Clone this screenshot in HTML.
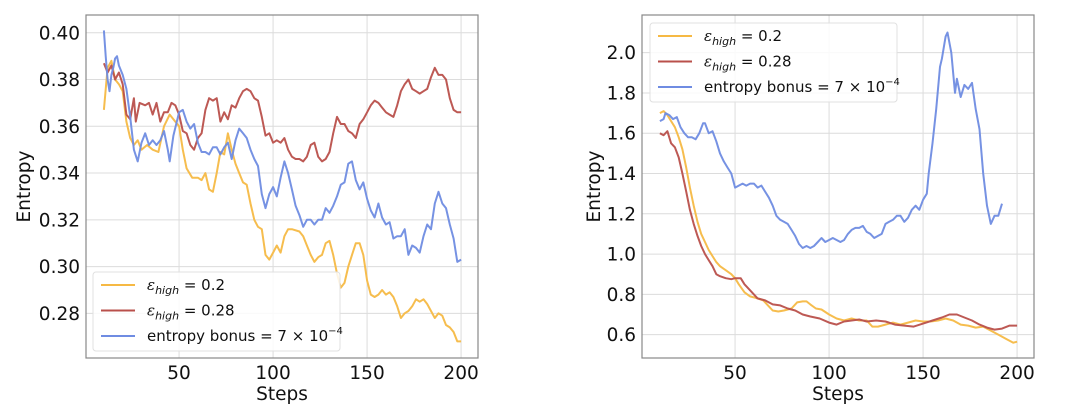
<!DOCTYPE html>
<html><head><meta charset="utf-8">
<style>
html,body{margin:0;padding:0;background:#fff;width:1080px;height:413px;overflow:hidden}
svg{font-family:"DejaVu Sans","Liberation Sans",sans-serif}
</style></head>
<body>
<svg id="fig" width="1080" height="413" viewBox="0 0 1080 413" xmlns="http://www.w3.org/2000/svg"></svg>
<script>
// ---- Left chart data ----
const L_orange_x=[10,12,14,16,18,20,22,24,26,28,30,33,36,39,42,45,48,50,52,54,57,60,62,64,66,68,70,72,74,76,78,80,82,84,86,88,90,92,94,96,98,100,102,104,106,108,110,114,116,118,120,122,124,126,128,130,132,134,136,138,140,142,144,146,148,150,152,154,156,158,160,162,164,166,168,170,172,174,176,178,180,182,184,186,188,190,192,194,196,198,200];
const L_orange_y=[0.367,0.385,0.388,0.380,0.378,0.375,0.362,0.355,0.352,0.354,0.350,0.352,0.350,0.349,0.360,0.365,0.362,0.360,0.350,0.342,0.338,0.338,0.337,0.340,0.333,0.332,0.340,0.349,0.348,0.357,0.350,0.344,0.340,0.336,0.335,0.327,0.320,0.317,0.316,0.305,0.303,0.306,0.309,0.306,0.313,0.316,0.316,0.315,0.313,0.309,0.305,0.302,0.304,0.305,0.310,0.311,0.305,0.297,0.291,0.293,0.300,0.305,0.310,0.310,0.305,0.294,0.288,0.287,0.288,0.290,0.288,0.289,0.287,0.283,0.278,0.280,0.281,0.283,0.286,0.285,0.286,0.284,0.281,0.278,0.280,0.279,0.275,0.274,0.272,0.268,0.268];
const L_red_x=[10,12,14,16,18,20,22,24,26,27,29,32,34,36,38,40,42,44,46,48,50,52,54,56,58,60,62,64,66,68,70,72,74,76,78,80,82,84,86,88,90,92,94,96,98,100,102,104,106,108,110,112,114,116,118,120,122,124,126,128,130,132,134,136,138,140,142,144,146,148,150,152,154,156,158,160,162,164,166,168,170,172,174,176,178,180,182,184,186,188,190,192,194,196,198,200];
const L_red_y=[0.387,0.383,0.386,0.380,0.383,0.378,0.365,0.363,0.372,0.362,0.370,0.369,0.370,0.365,0.370,0.362,0.366,0.366,0.370,0.369,0.365,0.358,0.357,0.352,0.350,0.355,0.357,0.367,0.372,0.371,0.372,0.362,0.366,0.363,0.369,0.368,0.372,0.375,0.376,0.375,0.372,0.371,0.364,0.356,0.357,0.353,0.354,0.353,0.355,0.350,0.347,0.346,0.346,0.345,0.347,0.352,0.353,0.347,0.345,0.346,0.349,0.357,0.364,0.361,0.361,0.358,0.357,0.355,0.361,0.363,0.366,0.369,0.371,0.370,0.368,0.366,0.365,0.364,0.369,0.375,0.378,0.380,0.376,0.375,0.374,0.375,0.376,0.381,0.385,0.382,0.382,0.380,0.372,0.367,0.366,0.366];
const L_blue_x=[10,11,12,13,14,15,16,17,18,20,22,24,26,28,30,32,34,36,38,40,42,44,45,47,50,52,54,56,58,60,62,64,66,68,70,72,74,76,78,80,82,84,86,88,90,92,94,96,98,100,102,104,106,108,110,112,114,116,118,120,122,124,126,128,130,132,134,136,138,140,142,144,146,148,150,152,154,156,158,160,162,164,166,168,170,172,174,176,178,180,182,184,186,188,190,192,194,196,198,200];
const L_blue_y=[0.401,0.390,0.380,0.375,0.382,0.385,0.389,0.390,0.386,0.382,0.376,0.364,0.350,0.345,0.353,0.357,0.352,0.354,0.352,0.354,0.358,0.350,0.345,0.356,0.366,0.367,0.362,0.359,0.361,0.353,0.349,0.349,0.348,0.351,0.351,0.348,0.351,0.353,0.346,0.354,0.359,0.357,0.355,0.350,0.346,0.343,0.331,0.325,0.331,0.334,0.330,0.338,0.345,0.340,0.333,0.326,0.322,0.317,0.320,0.320,0.318,0.320,0.320,0.325,0.323,0.326,0.330,0.335,0.336,0.344,0.345,0.337,0.333,0.336,0.329,0.324,0.321,0.327,0.321,0.318,0.319,0.312,0.313,0.313,0.316,0.305,0.309,0.308,0.306,0.313,0.318,0.316,0.327,0.332,0.327,0.325,0.318,0.312,0.302,0.303];
const L_yticks=[0.28,0.30,0.32,0.34,0.36,0.38,0.40];
const L_ytick_labels=["0.28","0.30","0.32","0.34","0.36","0.38","0.40"];
// ---- Right chart data ----
const R_orange_x=[10,12,14,16,18,20,22,24,26,28,30,32,34,36,38,40,42,45,48,50,52,55,58,62,65,68,70,73,76,80,83,86,88,90,93,96,100,104,108,112,116,120,123,126,130,134,138,142,146,150,154,158,162,166,170,174,178,182,186,190,194,198,200];
const R_orange_y=[1.70,1.71,1.69,1.66,1.63,1.58,1.52,1.43,1.33,1.24,1.16,1.10,1.06,1.02,0.99,0.96,0.94,0.92,0.90,0.88,0.85,0.81,0.79,0.78,0.77,0.74,0.72,0.715,0.72,0.73,0.76,0.765,0.765,0.75,0.73,0.725,0.70,0.68,0.67,0.68,0.67,0.67,0.64,0.64,0.65,0.66,0.65,0.66,0.67,0.665,0.665,0.67,0.68,0.67,0.65,0.645,0.635,0.64,0.62,0.60,0.58,0.56,0.565];
const R_red_x=[10,12,14,16,18,20,22,24,26,28,30,32,34,36,38,40,42,45,48,50,53,55,58,62,66,70,74,78,82,86,90,95,100,104,108,112,116,120,125,130,135,140,145,150,155,160,164,168,172,176,180,184,188,192,196,200];
const R_red_y=[1.60,1.59,1.61,1.55,1.53,1.48,1.40,1.31,1.22,1.15,1.09,1.04,1.00,0.97,0.94,0.90,0.89,0.88,0.875,0.88,0.88,0.85,0.82,0.78,0.77,0.75,0.745,0.73,0.72,0.70,0.69,0.68,0.66,0.65,0.665,0.67,0.675,0.665,0.67,0.665,0.65,0.645,0.64,0.655,0.67,0.685,0.70,0.70,0.685,0.67,0.65,0.635,0.625,0.63,0.645,0.645];
const R_blue_x=[10,12,13,15,17,19,21,23,25,27,29,31,33,34,36,38,40,42,44,46,48,50,52,54,56,58,60,62,64,66,68,70,72,74,76,78,80,82,84,86,88,90,92,94,96,98,100,102,104,106,108,110,112,114,116,118,120,122,124,126,128,130,132,134,136,138,140,142,144,146,148,150,152,153,155,157,159,160,162,163,165,167,168,170,172,174,176,178,180,182,184,186,188,190,192];
const R_blue_y=[1.66,1.67,1.70,1.69,1.67,1.68,1.63,1.60,1.58,1.58,1.57,1.60,1.65,1.65,1.60,1.61,1.56,1.50,1.46,1.43,1.40,1.33,1.34,1.35,1.34,1.35,1.35,1.33,1.34,1.31,1.28,1.24,1.19,1.17,1.16,1.15,1.12,1.09,1.05,1.03,1.04,1.03,1.04,1.06,1.08,1.06,1.07,1.08,1.07,1.06,1.07,1.10,1.12,1.13,1.13,1.14,1.11,1.10,1.08,1.09,1.10,1.15,1.16,1.17,1.19,1.19,1.16,1.18,1.22,1.24,1.22,1.27,1.30,1.40,1.55,1.72,1.93,1.97,2.08,2.10,2.00,1.80,1.87,1.78,1.84,1.82,1.85,1.72,1.62,1.40,1.24,1.15,1.19,1.19,1.25];
const R_yticks=[0.6,0.8,1.0,1.2,1.4,1.6,1.8,2.0];
const R_ytick_labels=["0.6","0.8","1.0","1.2","1.4","1.6","1.8","2.0"];
const xticks=[50,100,150,200];
const xtick_labels=["50","100","150","200"];
const legend_labels=["\u03B5","\u03B5","entropy bonus"];

const NS="http://www.w3.org/2000/svg";
const svg=document.getElementById('fig');
const COL={o:"#f6b944",r:"#b9504b",b:"#6f8ce2"};
function mk(tag,attrs,parent){const e=document.createElementNS(NS,tag);for(const k in attrs)e.setAttribute(k,attrs[k]);(parent||svg).appendChild(e);return e;}

function chart(cfg){
  const g=mk('g',{});
  
  
  const X=v=>cfg.x0+(v-cfg.xmin)/(cfg.xmax-cfg.xmin)*(cfg.x1-cfg.x0);
  const Y=v=>cfg.y1-(v-cfg.ymin)/(cfg.ymax-cfg.ymin)*(cfg.y1-cfg.y0);
  // grid
  cfg.yticks.forEach((t,i)=>{
    const l=mk('line',{x1:cfg.x0,x2:cfg.x1,y1:Y(t),y2:Y(t),stroke:"#dcdcdc","stroke-width":1},g);
    
    const tx=mk('text',{x:cfg.x0-6,y:Y(t)+6.5,"text-anchor":"end","font-size":18.5,fill:"#111"},g);
    tx.textContent=cfg.ylabels[i];
    
  });
  xticks.forEach((t,i)=>{
    const l=mk('line',{x1:X(t),x2:X(t),y1:cfg.y0,y2:cfg.y1,stroke:"#dcdcdc","stroke-width":1},g);
    
    const tx=mk('text',{x:X(t),y:cfg.y1+21,"text-anchor":"middle","font-size":18.5,fill:"#111"},g);
    tx.textContent=xtick_labels[i];
    
  });
  // series
  cfg.series.forEach(s=>{
    const d=s.x.map((v,i)=>(i?'L':'M')+X(v).toFixed(1)+' '+Y(s.y[i]).toFixed(1)).join(' ');
    const p=mk('path',{d:d,fill:"none",stroke:s.c,"stroke-width":2,"stroke-linejoin":"round",opacity:0.95},g);
    
  });
  const fr=mk('rect',{x:cfg.x0,y:cfg.y0,width:cfg.x1-cfg.x0,height:cfg.y1-cfg.y0,fill:"none",stroke:"#888","stroke-width":1.2},g);
  
  const xl=mk('text',{x:(cfg.x0+cfg.x1)/2,y:cfg.y1+42,"text-anchor":"middle","font-size":18.5,fill:"#111"},g);
  xl.textContent="Steps";
  const yl=mk('text',{x:0,y:0,"text-anchor":"middle","font-size":18.5,fill:"#111",transform:`translate(${cfg.ylx},${(cfg.y0+cfg.y1)/2}) rotate(-90)`},g);
  yl.textContent="Entropy";
  // legend
  const lg=mk('g',{},g);
  
  mk('rect',{x:cfg.lx,y:cfg.ly,width:247,height:79,rx:3,fill:"rgba(255,255,255,0.85)",stroke:"#e0e0e0"},lg);
  const cols=[COL.o,COL.r,COL.b];
  const vals=["= 0.2","= 0.28",""];
  cols.forEach((c,i)=>{
    const yy=cfg.ly+13+i*25.5;
    const e=mk('g',{},lg);
    
    mk('line',{x1:cfg.lx+8,x2:cfg.lx+42,y1:yy,y2:yy,stroke:c,"stroke-width":2},e);
    const t=mk('text',{x:cfg.lx+54,y:yy+5,"font-size":15,fill:"#111"},e);
    if(i<2){
      t.innerHTML=`<tspan font-style="italic" font-family="DejaVu Serif, serif">${legend_labels[i]}</tspan><tspan font-style="italic" font-size="11" dy="4">high</tspan><tspan dy="-4"> ${vals[i]}</tspan>`;
    } else {
      t.innerHTML=`${legend_labels[2]}  = 7 × 10<tspan font-size="10" dy="-7">−4</tspan>`;
    }
  });
}

chart({name:'left-chart',x0:86,x1:478,y0:15,y1:358,xmin:0.5,xmax:209,ymin:0.2609,ymax:0.4076,
  yticks:L_yticks,ylabels:L_ytick_labels,ylx:30,lx:93,ly:272,
  series:[{x:L_orange_x,y:L_orange_y,c:COL.o,n:'line-eps-0.2'},{x:L_red_x,y:L_red_y,c:COL.r,n:'line-eps-0.28'},{x:L_blue_x,y:L_blue_y,c:COL.b,n:'line-entropy-bonus'}]});
chart({name:'right-chart',x0:642,x1:1034,y0:15,y1:358,xmin:0.5,xmax:209,ymin:0.484,ymax:2.187,
  yticks:R_yticks,ylabels:R_ytick_labels,ylx:600,lx:650,ly:23,
  series:[{x:R_orange_x,y:R_orange_y,c:COL.o,n:'line-eps-0.2'},{x:R_red_x,y:R_red_y,c:COL.r,n:'line-eps-0.28'},{x:R_blue_x,y:R_blue_y,c:COL.b,n:'line-entropy-bonus'}]});
</script>
</body></html>
